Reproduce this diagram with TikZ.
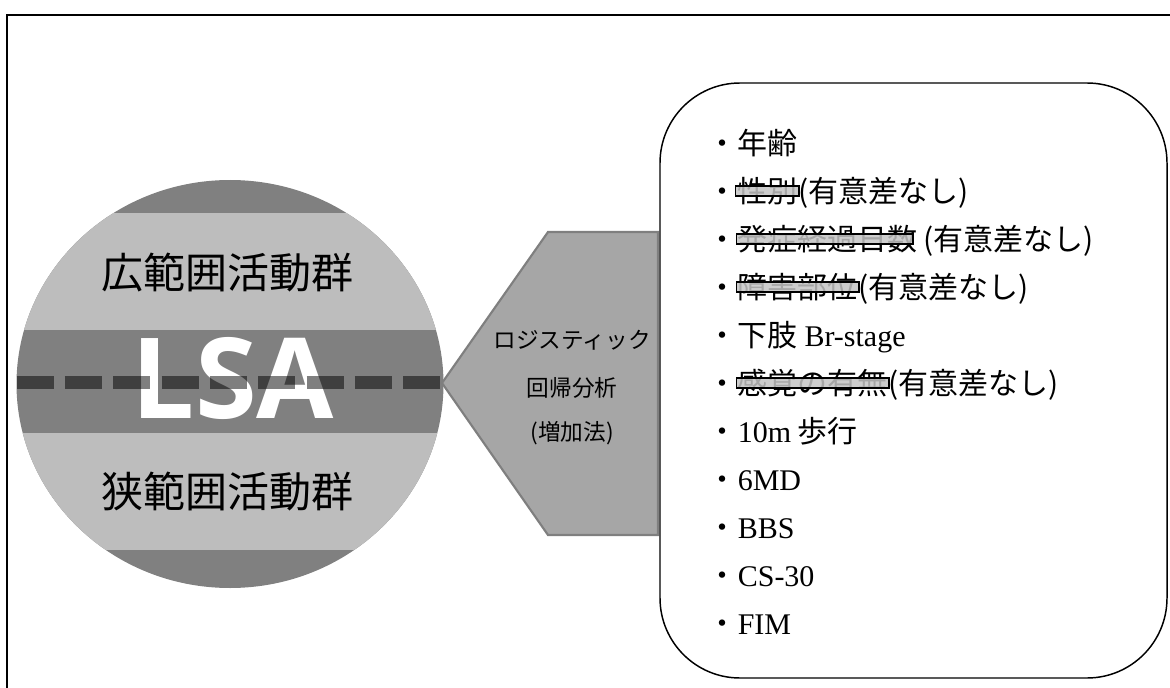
\documentclass[tikz,border=0pt]{standalone}
\usepackage{fontspec}
\setmainfont{Noto Sans CJK JP}
\newfontfamily\latinf{Liberation Serif}
\newfontfamily\lsaf{Open Sans}
\usetikzlibrary{calc}
\definecolor{bandDark}{HTML}{808080}
\definecolor{bandLight}{HTML}{BDBDBD}
\definecolor{pentFill}{HTML}{A6A6A6}
\definecolor{pentLine}{HTML}{7F7F7F}
\definecolor{strikeFill}{HTML}{C4C4C4}
\begin{document}
\begin{tikzpicture}[x=0.75pt,y=-0.75pt,
  frameline/.style={line width=2pt,black},
  grouplabel/.style={inner sep=0pt,font=\fontsize{31.5}{36}\selectfont},
  pentlabel/.style={inner sep=0pt,font=\fontsize{17}{20}\selectfont},
  item/.style={anchor=west,inner sep=0pt,font=\fontsize{22.5}{27}\selectfont,text height=19.8pt,text depth=2.7pt},
  strikebox/.style={draw=black,line width=1.1pt,fill=strikeFill,fill opacity=0.85},
  listbox/.style={draw=black,line width=1.1pt,rounded corners=60pt},
  lsadash/.style={draw=black,draw opacity=0.5,line width=9.75pt,dash pattern=on 27.75pt off 8.5pt}
]
\useasboundingbox (0,0) rectangle (1170,688);
% outer frame (top and left edges visible)
\draw[frameline] (7,690) -- (7,15) -- (1172,15);

% circle with bands
\begin{scope}
  \clip (230,384) ellipse [x radius=213.5, y radius=204];
  \fill[bandDark] (0,170) rectangle (460,600);
  \fill[bandLight] (0,213) rectangle (460,330);
  \fill[bandLight] (0,433) rectangle (460,550);
\end{scope}
\coordinate (cw) at (16.5,382);
\coordinate (ce) at (443.5,382);

\node[grouplabel] (wide) at (227,273) {広範囲活動群};
\node[grouplabel] (narrow) at (227,492) {狭範囲活動群};
\node[inner sep=0pt,anchor=base,text=white,font=\fontsize{84}{90}\lsaf\bfseries] (lsa) at (233,418) {LSA};
\draw[lsadash] (cw) -- (ce);

% pentagon arrow
\coordinate (tip) at (442,383);
\draw[fill=pentFill,draw=pentLine,line width=1.6pt]
  (tip) -- (548,232) -- (658,232) -- (658,535) -- (548,535) -- cycle;
\node[pentlabel] (p1) at (572,340) {ロジスティック};
\node[pentlabel] (p2) at (572,388) {回帰分析};
\node[pentlabel] (p3) at (572,433) {(増加法)};

% list box
\draw[listbox] (660,83) rectangle (1167,678);

% items
\node[item] (b1) at (707,143) {・};
\node[item] (t1) at (b1.east) {年齢};

\node[item] (b2) at (707,191) {・};
\node[item] (s2) at (b2.east) {性別};
\node[item] (r2) at (s2.east) {(有意差なし)};
\draw[strikebox] ($(s2.west)+(-2,-5)$) rectangle ($(s2.east)+(1,5)$);

\node[item] (b3) at (707,239) {・};
\node[item] (s3) at (b3.east) {発症経過日数};
\node[item] (r3) at (s3.east) {\,(有意差なし)};
\draw[strikebox] ($(s3.west)+(-1,-5)$) rectangle ($(s3.east)+(-5,5)$);

\node[item] (b4) at (707,287) {・};
\node[item] (s4) at (b4.east) {障害部位};
\node[item] (r4) at (s4.east) {(有意差なし)};
\draw[strikebox] ($(s4.west)+(-1,-5)$) rectangle ($(s4.east)+(1,5)$);

\node[item] (b5) at (707,335) {・};
\node[item] (t5) at (b5.east) {下肢 {\latinf Br-stage}};

\node[item] (b6) at (707,383) {・};
\node[item] (s6) at (b6.east) {感覚の有無};
\node[item] (r6) at (s6.east) {(有意差なし)};
\draw[strikebox] ($(s6.west)+(-1,-5)$) rectangle ($(s6.east)+(1,5)$);

\node[item] (b7) at (707,431) {・};
\node[item] (t7) at (b7.east) {{\latinf 10m} 歩行};

\node[item] (b8) at (707,479) {・};
\node[item] (t8) at (b8.east) {\latinf 6MD};

\node[item] (b9) at (707,527) {・};
\node[item] (t9) at (b9.east) {\latinf BBS};

\node[item] (b10) at (707,575) {・};
\node[item] (t10) at (b10.east) {\latinf CS-30};

\node[item] (b11) at (707,623) {・};
\node[item] (t11) at (b11.east) {\latinf FIM};
\end{tikzpicture}
\end{document}
